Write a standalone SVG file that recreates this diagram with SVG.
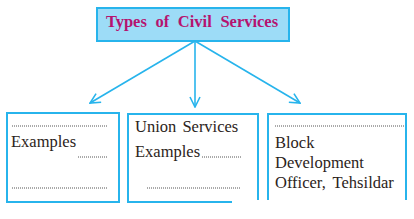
<svg xmlns="http://www.w3.org/2000/svg" width="414" height="219" viewBox="0 0 414 219">
<defs>
<style>
.box{fill:#fff;stroke:#27b4ec;stroke-width:2}
.edge{fill:none;stroke:#27b4ec;stroke-width:1.6}
.t{font-family:"Liberation Serif","Times New Roman",serif;font-size:16.5px;fill:#2b2320}
.title{font-family:"Liberation Serif","Times New Roman",serif;font-size:16.5px;font-weight:bold;fill:#b5136f;word-spacing:4.5px}
.dot{stroke:#555;stroke-width:1;stroke-dasharray:1 1;fill:none}
</style>
<marker id="ah" viewBox="0 0 12 12" refX="11" refY="6" markerWidth="12" markerHeight="12" markerUnits="userSpaceOnUse" orient="auto">
<path d="M1,1 L11,6 L1,11" fill="none" stroke="#27b4ec" stroke-width="1.6"/>
</marker>
</defs>
<rect width="414" height="219" fill="#fff"/>
<g id="connectors">
<line class="edge" x1="195" y1="41" x2="90" y2="103" marker-end="url(#ah)"/>
<line class="edge" x1="195" y1="41" x2="195" y2="107" marker-end="url(#ah)"/>
<line class="edge" x1="195" y1="41" x2="300" y2="103" marker-end="url(#ah)"/>
</g>
<g id="title">
<rect x="97" y="8" width="192" height="33" fill="#9ddcf7" stroke="#27b4ec" stroke-width="2"/>
<text class="title" x="192" y="27" text-anchor="middle">Types of Civil Services</text>
</g>
<g id="box1">
<rect class="box" x="7" y="113" width="112" height="89"/>
<line class="dot" x1="12" y1="126" x2="107" y2="126"/>
<text class="t" x="11" y="147">Examples</text>
<line class="dot" x1="78" y1="157" x2="107" y2="157"/>
<line class="dot" x1="12" y1="188" x2="107" y2="188"/>
</g>
<g id="box2">
<path class="box" d="M232,202 H128 V114 H258 V200" />
<text class="t" x="135" y="132" word-spacing="2">Union Services</text>
<text class="t" x="135" y="157">Examples</text>
<line class="dot" x1="202" y1="157" x2="241" y2="157"/>
<line class="dot" x1="147" y1="188" x2="241" y2="188"/>
</g>
<g id="box3">
<path class="box" d="M268,200 V114 H406 V200"/>
<line class="dot" x1="275" y1="126" x2="404" y2="126"/>
<text class="t" x="275" y="148">Block</text>
<text class="t" x="275" y="168">Development</text>
<text class="t" x="275" y="188" word-spacing="3">Officer, Tehsildar</text>
</g>
</svg>
